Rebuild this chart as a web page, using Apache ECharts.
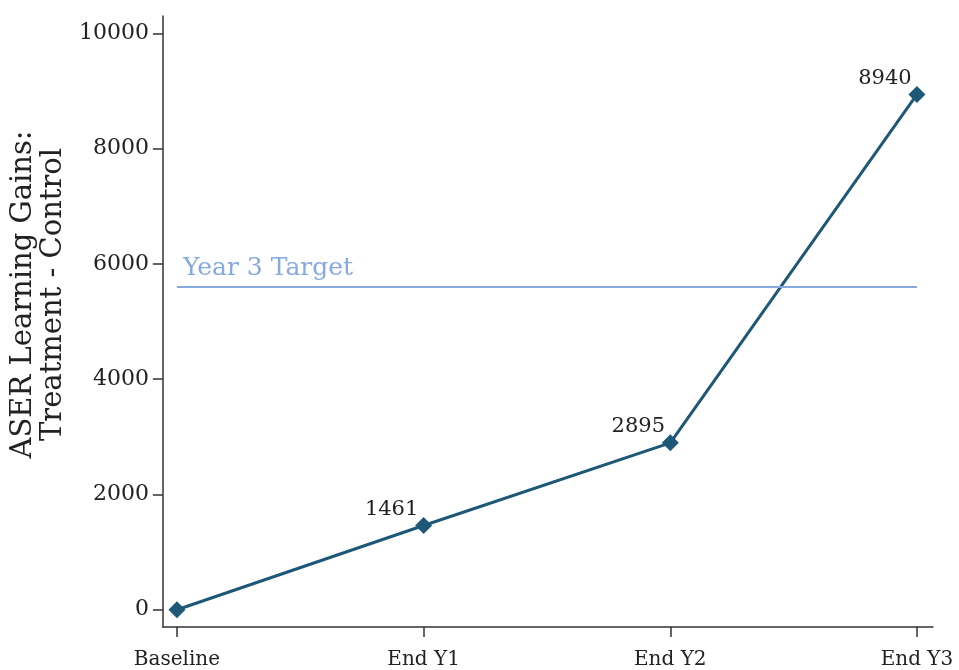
<!DOCTYPE html>
<html>
<head>
<meta charset="utf-8">
<script src="https://cdn.jsdelivr.net/npm/echarts@6/dist/echarts.min.js"></script>
<style>html,body{margin:0;padding:0;background:#fff}#c{width:959px;height:670px}</style>
</head>
<body>
<div id="c"></div>
<script>
const categories = ['Baseline', 'End Y1', 'End Y2', 'End Y3'];
const gains = [0, 1461, 2895, 8940];
const showValueLabel = [false, true, true, true];
const yTicks = [0, 2000, 4000, 6000, 8000, 10000];
const targetValue = 5600;
const targetLabel = 'Year 3 Target';

const FONT = '"DejaVu Serif", serif';
const lineColor = '#1d5878';
const targetColor = '#86a9de';

const chart = echarts.init(document.getElementById('c'), null, {renderer: 'canvas'});
const xIdx = categories.map((c, i) => i);
chart.setOption({
  animation: false,
  backgroundColor: '#fff',
  grid: {left: 162, right: 26, top: 16, bottom: 40, containLabel: false},
  xAxis: {
    type: 'value',
    min: -0.057,
    max: 3.065,
    axisLine: {show: true, onZero: false, lineStyle: {color: '#333', width: 1.5}},
    axisTick: {show: true, length: 10, customValues: xIdx, lineStyle: {color: '#333', width: 1.5}},
    axisLabel: {customValues: xIdx, formatter: v => categories[Math.round(v)] || '',
      fontFamily: FONT, fontSize: 20, color: '#222', margin: 23},
    splitLine: {show: false}
  },
  yAxis: {
    type: 'value',
    min: -300,
    max: 10300,
    name: 'ASER Learning Gains:\nTreatment - Control',
    nameLocation: 'middle',
    nameGap: 80,
    nameTextStyle: {fontFamily: FONT, fontSize: 29, color: '#222', lineHeight: 30, padding: [0, 0, 0, 54]},
    axisLine: {show: true, onZero: false, lineStyle: {color: '#333', width: 1.5}},
    axisTick: {show: true, length: 10, customValues: yTicks, lineStyle: {color: '#333', width: 1.5}},
    axisLabel: {customValues: yTicks, formatter: v => String(v), fontFamily: FONT, fontSize: 22, color: '#222', margin: 14},
    splitLine: {show: false}
  },
  series: [{
    type: 'line',
    data: gains.map((v, i) => ({value: [i, v], label: {show: showValueLabel[i]}})),
    symbol: 'diamond',
    symbolSize: 17,
    lineStyle: {color: lineColor, width: 3},
    itemStyle: {color: lineColor},
    label: {
      show: true, position: 'top', distance: 3, offset: [-32, 6],
      formatter: p => String(p.value[1]),
      fontFamily: FONT, fontSize: 21, color: '#222'
    },
    markLine: {
      silent: true,
      symbol: 'none',
      lineStyle: {color: targetColor, width: 2, type: 'solid'},
      label: {show: true, position: 'insideStartTop', formatter: targetLabel,
        fontFamily: FONT, fontSize: 25, color: targetColor, distance: [6, 6]},
      data: [[{coord: [0, targetValue]}, {coord: [categories.length - 1, targetValue]}]]
    }
  }]
});
</script>
</body>
</html>
